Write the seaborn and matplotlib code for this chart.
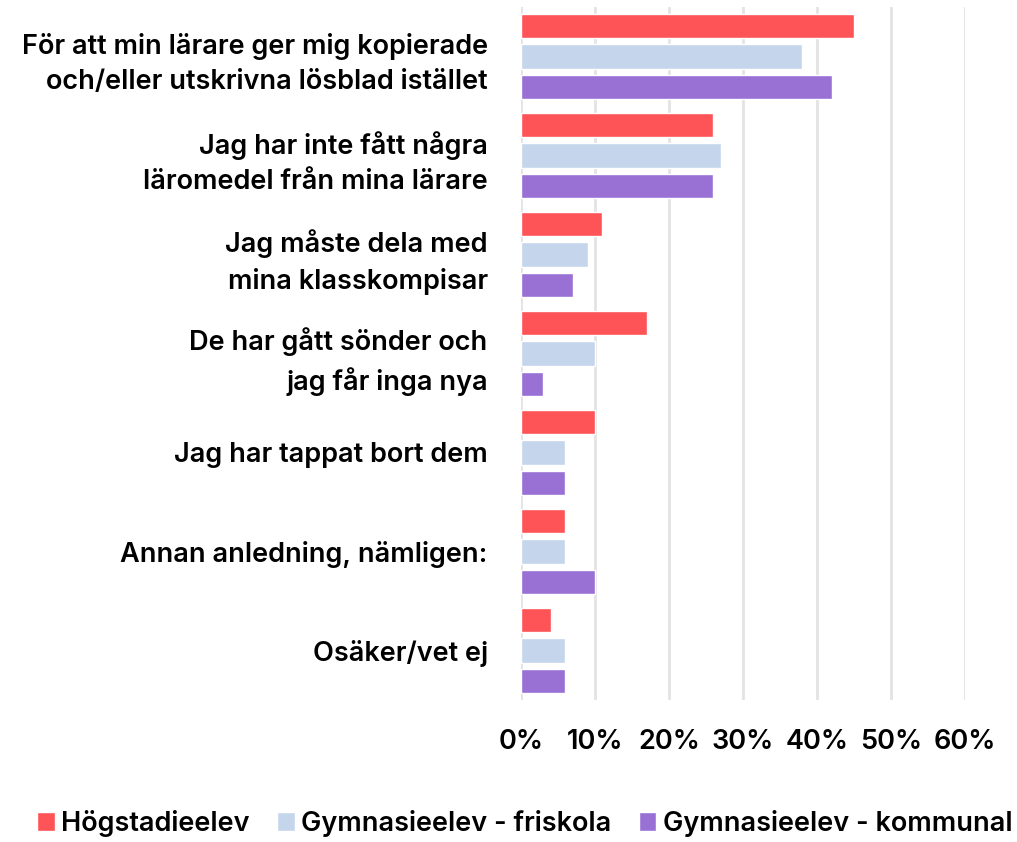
import pandas as pd
import numpy as np
import matplotlib.pyplot as plt
import seaborn as sns
from matplotlib.patches import Patch

# data (percent)
categories = [
    "För att min lärare ger mig kopierade\noch/eller utskrivna lösblad istället",
    "Jag har inte fått några\nläromedel från mina lärare",
    "Jag måste dela med\nmina klasskompisar",
    "De har gått sönder och\njag får inga nya",
    "Jag har tappat bort dem",
    "Annan anledning, nämligen:",
    "Osäker/vet ej",
]
groups = ["Högstadieelev", "Gymnasieelev - friskola", "Gymnasieelev - kommunal"]
hogstadie = [45, 26, 11, 17, 10, 6, 4]
friskola = [38, 27, 9, 10, 6, 6, 6]
kommunal = [42, 26, 7, 3, 6, 10, 6]
colors = ["#FF5457", "#C5D5EC", "#9970D4"]

df = pd.DataFrame({
    "Anledning": categories * 3,
    "Grupp": [groups[0]] * 7 + [groups[1]] * 7 + [groups[2]] * 7,
    "Andel": hogstadie + friskola + kommunal,
})

sns.set_style("white")
plt.rcParams['font.family'] = ['Inter', 'DejaVu Sans']
plt.rcParams['text.color'] = 'black'
plt.rcParams['xtick.color'] = 'black'
plt.rcParams['ytick.color'] = 'black'

fig = plt.figure(figsize=(10.17, 8.42), dpi=100)
ax = fig.add_axes([521 / 1017, 1 - 700 / 842, (965 - 521) / 1017, 693 / 842])

sns.barplot(data=df, y="Anledning", x="Andel", hue="Grupp", order=categories,
            hue_order=groups, palette=colors, orient="h", width=0.91, gap=0.2,
            saturation=1, legend=False, ax=ax)

ax.set_xlim(0, 60)
ax.set_ylim(6.5, -0.5)
ax.set_xticks(range(0, 61, 10))
ax.set_xticklabels([f"{v}%" for v in range(0, 61, 10)], fontsize=19.5, fontweight="semibold")
ax.set_yticklabels(categories, fontsize=19.5, fontweight="semibold", linespacing=1.45)
ax.tick_params(axis="y", length=0, pad=24)
ax.tick_params(axis="x", length=0, pad=21)
ax.set_xlabel("")
ax.set_ylabel("")
ax.grid(axis="x", color="#E3E3E3", linewidth=2)
ax.set_axisbelow(True)
for s in ax.spines.values():
    s.set_visible(False)

handles = [Patch(facecolor=c, label=g) for c, g in zip(colors, groups)]
fig.legend(handles=handles, loc="lower center", bbox_to_anchor=(0.516, -0.023), ncol=3,
           frameon=False, prop={"size": 19.5, "weight": "semibold"},
           handlelength=0.65, handleheight=0.65, handletextpad=0.25, columnspacing=1.0)

fig.savefig("out.png", dpi=100)
